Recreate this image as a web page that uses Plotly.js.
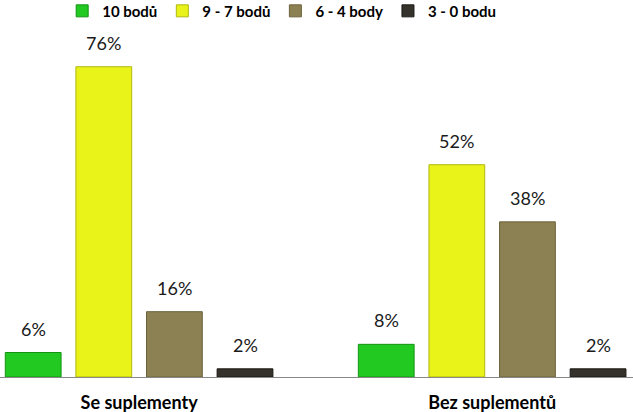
<!DOCTYPE html>
<html>
<head>
<meta charset="utf-8">
<script src="https://cdn.plot.ly/plotly-3.0.1.min.js"></script>
<style>
  html, body { margin: 0; padding: 0; background: #fff; }
  #graf { width: 633px; height: 412px; }
</style>
</head>
<body>
<div id="graf"></div>
<script>
// Skupiny a hodnoty (%)
const skupiny = ['Se suplementy', 'Bez suplementů'];
const serie = ['10 bodů', '9 - 7 bodů', '6 - 4 body', '3 - 0 bodu'];
const hodnoty10 = [6, 8];
const hodnoty97 = [76, 52];
const hodnoty64 = [16, 38];
const hodnoty30 = [2, 2];
const barvy = ['#21c921', '#e9f219', '#8c8152', '#35322b'];
const okraje = ['#149414', '#b0b80e', '#6b623c', '#1a1814'];

const vsechnyHodnoty = [hodnoty10, hodnoty97, hodnoty64, hodnoty30];
const bargap = 0.2;

const data = vsechnyHodnoty.map((vals, i) => ({
    x: skupiny,
    y: vals,
    name: serie[i],
    type: 'bar',
    marker: { color: barvy[i], line: { color: okraje[i], width: 1 } },
    hoverinfo: 'none'
}));

// Popisky nad sloupci - posun podle sirky skupiny
const sirkaSlotu = (1 - bargap) / vsechnyHodnoty.length;
const popisky = [];
vsechnyHodnoty.forEach((vals, i) => {
    const posun = -(1 - bargap) / 2 + sirkaSlotu * (i + 0.5);
    vals.forEach((v, j) => {
        popisky.push({
            x: j + posun,
            y: v,
            xref: 'x',
            yref: 'y',
            text: v + '%',
            showarrow: false,
            yanchor: 'bottom',
            yshift: 11,
            font: { family: 'Lato, sans-serif', size: 18, color: '#1a1a1a' }
        });
    });
});

const layout = {
    width: 633,
    height: 412,
    paper_bgcolor: '#fff',
    plot_bgcolor: '#fff',
    font: { family: 'Lato, sans-serif', color: '#000' },
    margin: { l: 0, r: 0, t: 30, b: 35, autoexpand: false },
    barmode: 'group',
    bargap: bargap,
    bargroupgap: 0.21,
    xaxis: {
        type: 'category',
        range: [-0.394, 1.399],
        showgrid: false,
        showline: true,
        linecolor: '#888',
        linewidth: 1,
        ticks: '',
        ticklabelstandoff: 9,
        tickfont: { size: 18, family: 'Lato, sans-serif', weight: 'bold' }
    },
    yaxis: {
        range: [0, 85],
        visible: false,
        showgrid: false,
        zeroline: false
    },
    legend: {
        orientation: 'h',
        x: 0.445,
        xanchor: 'center',
        y: 1.102,
        yanchor: 'top',
        font: { size: 15, family: 'Lato, sans-serif', weight: 'bold' },
        itemwidth: 20,
        traceorder: 'normal'
    },
    annotations: popisky,
    showlegend: true
};

Plotly.newPlot('graf', data, layout, { displayModeBar: false, staticPlot: true });
</script>
</body>
</html>
